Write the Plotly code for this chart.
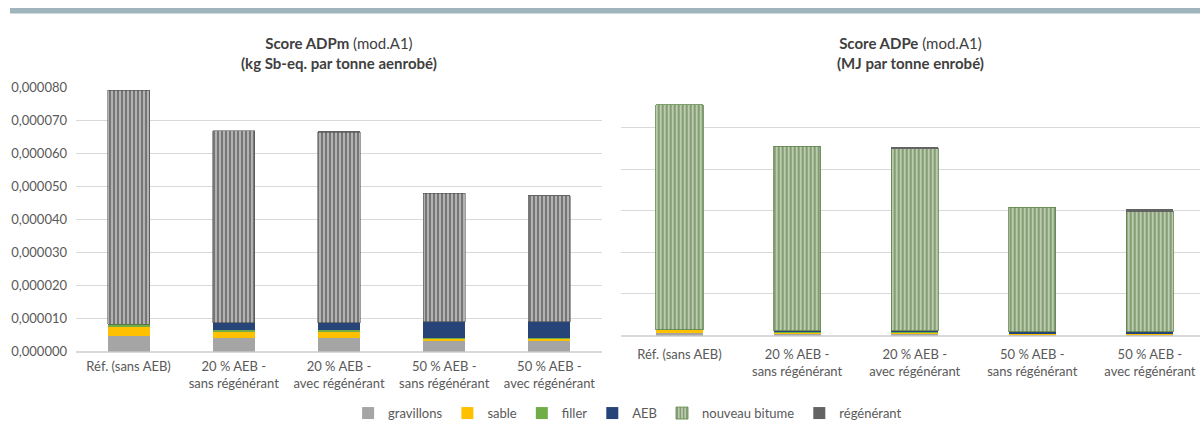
import plotly.graph_objects as go

categories = ["Réf. (sans AEB)", "20 % AEB -<br>sans régénérant", "20 % AEB -<br>avec régénérant",
              "50 % AEB -<br>sans régénérant", "50 % AEB -<br>avec régénérant"]
series_names = ["gravillons", "sable", "filler", "AEB", "nouveau bitume", "régénérant"]

# Left chart: ADPm (kg Sb-eq. per tonne)
adpm_gravillons = [0.0000048, 0.0000041, 0.0000041, 0.0000031, 0.0000031]
adpm_sable      = [0.0000029, 0.0000020, 0.0000020, 0.0000009, 0.0000009]
adpm_filler     = [0.0000005, 0.0000004, 0.0000004, 0.0000002, 0.0000002]
adpm_aeb        = [0.0, 0.0000022, 0.0000022, 0.0000048, 0.0000048]
adpm_bitume     = [0.0000709, 0.0000581, 0.0000577, 0.0000389, 0.0000382]
adpm_regen      = [0.0, 0.0, 0.00000003, 0.0, 0.00000005]

# Right chart: ADPe (MJ per tonne)
adpe_gravillons = [7.0, 5.0, 5.0, 4.0, 4.0]
adpe_sable      = [7.0, 4.0, 4.0, 1.5, 1.5]
adpe_filler     = [0.5, 0.5, 0.5, 0.3, 0.3]
adpe_aeb        = [0.0, 2.0, 2.0, 4.0, 4.0]
adpe_bitume     = [539.5, 443.5, 439.5, 298.2, 289.2]
adpe_regen      = [0.0, 0.0, 2.0, 0.0, 4.0]

colors = {"gravillons": "#A5A5A5", "sable": "#FFC000", "filler": "#70AD47",
          "AEB": "#264478", "régénérant": "#636363"}

# vertical placement helper: pixel row on the rendered page -> paper fraction
def py(y_px):
    return min(1.0, max(0.0, 1 - (y_px - 7.9) / 422.0))

fig = go.Figure()

left = [adpm_gravillons, adpm_sable, adpm_filler, adpm_aeb, adpm_bitume, adpm_regen]
right = [adpe_gravillons, adpe_sable, adpe_filler, adpe_aeb, adpe_bitume, adpe_regen]

for name, vals in zip(series_names, left):
    if name == "nouveau bitume":
        marker = dict(color="#D9D9D9",
                      pattern=dict(shape="|", fgcolor="#141414", bgcolor="#D9D9D9", size=4, solidity=0.7),
                      line=dict(color="#404040", width=0.5))
    else:
        marker = dict(color=colors[name], line=dict(width=0))
    fig.add_trace(go.Bar(x=categories, y=vals, name=name, marker=marker, width=0.4,
                         xaxis="x", yaxis="y", showlegend=False, legendgroup=name))

for name, vals in zip(series_names, right):
    if name == "nouveau bitume":
        marker = dict(color="#C9D6C0",
                      pattern=dict(shape="|", fgcolor="#3B6323", bgcolor="#C9D6C0", size=4, solidity=0.6),
                      line=dict(color="#5E8548", width=0.8))
    else:
        marker = dict(color=colors[name], line=dict(width=0))
    fig.add_trace(go.Bar(x=categories, y=vals, name=name, marker=marker, width=0.4,
                         xaxis="x2", yaxis="y2", showlegend=True, legendgroup=name))

tick_font = dict(family="Lato, sans-serif", size=13, color="#595959")
grid = "#D9D9D9"

fig.update_layout(
    width=1200, height=438,
    margin=dict(l=0, r=0, t=0, b=0),
    paper_bgcolor="white", plot_bgcolor="white",
    barmode="stack", separators=", ",
    font=dict(family="Lato, sans-serif", color="#595959"),
    xaxis=dict(domain=[76/1200, 602/1200], anchor="y", tickfont=tick_font,
               showgrid=False, showline=False, ticks="", range=[-0.5, 4.5], ticklabelstandoff=5),
    yaxis=dict(domain=[py(351.5), py(87)], anchor="x", range=[0, 0.00008],
               dtick=0.00001, tickformat=".6f", tickfont=tick_font, gridcolor=grid,
               zerolinecolor=grid, showline=False, ticklabelstandoff=8),
    xaxis2=dict(domain=[620.7/1200, 1.0], anchor="y2", tickfont=tick_font,
                showgrid=False, showline=False, ticks="", range=[-0.5, 4.426], ticklabelstandoff=9),
    yaxis2=dict(domain=[py(335.5), py(85.7)], anchor="x2", range=[0, 600],
                dtick=100, showticklabels=False, gridcolor=grid, zerolinecolor=grid, showline=False),
    legend=dict(orientation="h", x=0.523, xanchor="center", y=py(413), yanchor="middle",
                font=dict(family="Lato, sans-serif", size=13, color="#595959"),
                traceorder="normal", itemclick=False, bgcolor="rgba(0,0,0,0)"),
    shapes=[dict(type="rect", xref="paper", yref="paper", x0=10/1200, x1=1.0,
                 y0=py(13.5), y1=1.0, fillcolor="#A0B4BC", line=dict(width=0), layer="above")],
    annotations=[
        dict(xref="paper", yref="paper", x=339/1200, y=py(52.5), xanchor="center", yanchor="middle",
             text="<b>Score ADPm</b> (mod.A1)<br><b>(kg Sb-eq. par tonne aenrobé)</b>", showarrow=False,
             font=dict(family="Lato, sans-serif", size=15, color="#404040")),
        dict(xref="paper", yref="paper", x=910/1200, y=py(52.5), xanchor="center", yanchor="middle",
             text="<b>Score ADPe</b> (mod.A1)<br><b>(MJ par tonne enrobé)</b>", showarrow=False,
             font=dict(family="Lato, sans-serif", size=15, color="#404040")),
    ],
)

fig.write_html("out.html")
